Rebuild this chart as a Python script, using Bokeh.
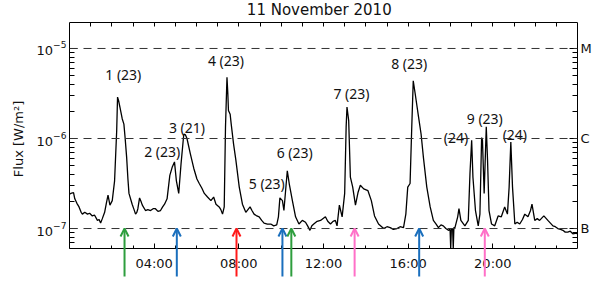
from bokeh.plotting import figure
from bokeh.models import (Range1d, LinearAxis, LogAxis, FixedTicker, Span, Label,
                          Arrow, OpenHead, ColumnDataSource)
from bokeh.core.properties import value
from bokeh.embed import file_html
from bokeh.resources import INLINE

TITLE = "11 November 2010"
Y_LABEL = "Flux [W/m\u00b2]"

# time in hours (UT) and log10 of GOES flux (W/m^2)
HOURS = [
    0.00, 0.06, 0.19, 0.25, 0.35, 0.45, 0.55, 0.61, 0.72, 0.85, 0.95, 1.08, 1.18, 1.32, 1.40,
    1.47, 1.55, 1.66, 1.74, 1.82, 1.91, 2.02, 2.13, 2.23, 2.27, 2.32, 2.38, 2.49, 2.57, 2.63,
    2.70, 2.76, 2.81, 2.96, 3.05, 3.12, 3.18, 3.23, 3.31, 3.38, 3.44, 3.59, 3.70, 3.83, 3.95,
    4.06, 4.18, 4.30, 4.40, 4.49, 4.61, 4.74, 4.85, 4.96, 5.05, 5.16, 5.27, 5.40, 5.48, 5.55,
    5.71, 5.87, 6.02, 6.13, 6.25, 6.37, 6.52, 6.68, 6.81, 6.92, 7.07, 7.15, 7.23, 7.31, 7.37,
    7.44, 7.48, 7.51, 7.59, 7.64, 7.75, 7.86, 8.02, 8.17, 8.33, 8.43, 8.53, 8.62, 8.72, 8.85,
    8.96, 9.08, 9.19, 9.35, 9.51, 9.65, 9.79, 9.87, 9.94, 10.06, 10.13, 10.22, 10.29, 10.38,
    10.53, 10.68, 10.84, 11.00, 11.15, 11.25, 11.36, 11.45, 11.54, 11.70, 11.86, 12.09, 12.20,
    12.33, 12.45, 12.56, 12.64, 12.75, 12.88, 13.00, 13.07, 13.11, 13.19, 13.27, 13.38, 13.51,
    13.63, 13.74, 13.90, 14.10, 14.26, 14.41, 14.60, 14.84, 15.00, 15.15, 15.30, 15.47, 15.62,
    15.78, 15.89, 15.98, 16.09, 16.17, 16.24, 16.33, 16.49, 16.61, 16.72, 16.88, 17.04, 17.19,
    17.32, 17.43, 17.55, 17.66, 17.78, 17.90, 17.98, 18.01, 18.04, 18.10, 18.13, 18.16, 18.21,
    18.34, 18.40, 18.49, 18.68, 18.84, 18.92, 19.00, 19.06, 19.18, 19.31, 19.39, 19.47, 19.51,
    19.59, 19.64, 19.69, 19.75, 19.82, 19.94, 20.09, 20.25, 20.40, 20.56, 20.69, 20.77, 20.85,
    20.93, 21.04, 21.15, 21.27, 21.40, 21.51, 21.66, 21.78, 21.85, 21.98, 22.10, 22.21, 22.41,
    22.60, 22.72, 22.84, 22.95, 23.07, 23.20, 23.31, 23.42, 23.54, 23.66, 23.78, 23.94, 24.00,
]
LOG_FLUX = [
    -6.62, -6.61, -6.60, -6.67, -6.72, -6.76, -6.82, -6.84, -6.82, -6.84, -6.83, -6.86, -6.85, -6.91, -6.90,
    -6.94, -6.89, -6.82, -6.72, -6.63, -6.74, -6.69, -6.47, -5.91, -5.54, -5.58, -5.65, -5.78, -5.84, -6.00,
    -6.21, -6.45, -6.61, -6.73, -6.79, -6.84, -6.82, -6.78, -6.66, -6.70, -6.74, -6.80, -6.79, -6.80, -6.78,
    -6.78, -6.81, -6.80, -6.76, -6.73, -6.67, -6.41, -6.32, -6.26, -6.47, -6.61, -6.28, -5.95, -5.96, -6.00,
    -6.17, -6.33, -6.45, -6.50, -6.55, -6.61, -6.65, -6.69, -6.65, -6.73, -6.76, -6.79, -6.84, -6.76, -5.87,
    -5.32, -5.50, -5.69, -5.73, -5.84, -6.06, -6.24, -6.54, -6.73, -6.82, -6.79, -6.76, -6.80, -6.84, -6.86,
    -6.87, -6.91, -6.94, -6.95, -6.95, -6.97, -6.96, -6.87, -6.66, -6.69, -6.80, -6.55, -6.36, -6.50,
    -6.69, -6.87, -6.95, -6.91, -6.93, -6.97, -7.02, -6.97, -6.95, -6.92, -6.91, -6.87, -6.92,
    -6.95, -6.92, -6.91, -6.97, -6.74, -6.87, -6.61, -5.87, -5.65, -5.80, -6.43, -6.54, -6.74,
    -6.60, -6.52, -6.56, -6.58, -6.69, -6.86, -6.95, -7.00, -6.98, -6.99, -7.01, -7.00, -6.98,
    -6.99, -6.84, -6.54, -6.50, -5.87, -5.36, -5.50, -5.76, -5.95, -6.21, -6.54, -6.76, -6.91,
    -6.95, -6.99, -6.96, -6.97, -7.00, -7.02, -7.01, -7.22, -7.01, -7.00, -7.22, -6.99, -6.99,
    -6.87, -6.78, -6.91, -6.97, -6.91, -6.39, -6.02, -6.43, -6.80, -6.97, -6.84, -5.99, -6.02,
    -6.61, -6.24, -5.87, -6.24, -6.80, -6.95, -6.97, -6.86, -6.87, -6.76, -6.84, -6.54, -6.04,
    -6.54, -6.95, -6.93, -6.95, -6.90, -6.84, -6.87, -6.80, -6.73, -6.91, -6.89, -6.91, -6.86,
    -6.91, -6.94, -6.97, -6.98, -7.00, -7.01, -7.02, -7.04, -7.04, -7.03, -7.06, -7.05, -7.06,
]

X_TICKS = [4, 8, 12, 16, 20]
X_TICK_LABELS = ["04:00", "08:00", "12:00", "16:00", "20:00"]
X_MINOR_TICKS = list(range(0, 25))

CLASS_LEVELS = [1e-7, 1e-6, 1e-5]
CLASS_LABELS = ["B", "C", "M"]

FLARE_TEXT = ["1 (23)", "2 (23)", "3 (21)", "4 (23)", "5 (23)", "6 (23)",
              "7 (23)", "8 (23)", "(24)", "9 (23)", "(24)"]
FLARE_X = [2.54, 4.38, 5.55, 7.39, 9.32, 10.64, 13.32, 16.05, 18.26, 19.62, 21.04]
FLARE_LOGY = [-5.289, -6.144, -5.878, -5.133, -6.50, -6.156, -5.50, -5.167, -5.989, -5.778, -5.956]

ARROW_HOURS = [2.60, 5.07, 7.89, 10.06, 10.48, 13.47, 16.52, 19.62]
ARROW_COLORS = ["#2e9e3e", "#1a6fbd", "#ff1a1a", "#1a6fbd", "#2e9e3e", "#ff70c8", "#1a6fbd", "#ff70c8"]

# visible axis box (log10 limits) plus room above (title) and below (arrows)
AX_LOG_MIN = -7.222
AX_LOG_MAX = -4.711
ROOM_LOG_MIN = -7.544
ROOM_LOG_MAX = -4.467
ARROW_TAIL_LOG = -7.533
TITLE_X = 11.8
TITLE_LOG_Y = -4.572

FONT = "DejaVu Sans"

flux = [10 ** v for v in LOG_FLUX]
ax_min = 10 ** AX_LOG_MIN
ax_max = 10 ** AX_LOG_MAX

p = figure(width=598, height=281, x_range=Range1d(0, 24),
           y_range=Range1d(10 ** ROOM_LOG_MIN, 10 ** ROOM_LOG_MAX),
           y_axis_type="log", output_backend="svg", toolbar_location=None,
           min_border_left=69, min_border_right=21, min_border_top=0, min_border_bottom=4,
           background_fill_color="white", border_fill_color="white")
p.grid.visible = False
p.outline_line_color = None

# dashed class levels
for lvl in CLASS_LEVELS:
    p.add_layout(Span(location=lvl, dimension="width", line_color="#333333",
                      line_dash="8 6", line_width=1))

# flux curve
src = ColumnDataSource(dict(t=HOURS, f=flux))
p.line("t", "f", source=src, line_color="black", line_width=1.3)

# flare labels
lab_src = ColumnDataSource(dict(x=FLARE_X, y=[10 ** v for v in FLARE_LOGY], txt=FLARE_TEXT))
p.text("x", "y", text="txt", source=lab_src, text_align="center", text_baseline="middle",
       text_font=value("Noto Sans"), text_font_size="14px", text_color="#111111")

# title
p.add_layout(Label(x=TITLE_X, y=10 ** TITLE_LOG_Y, text=TITLE, text_align="center",
                   text_baseline="alphabetic", text_font=FONT, text_font_size="15px",
                   text_color="#111111"))

# bottom axis, pinned at the bottom of the axis box
xa = p.xaxis[0]
xa.fixed_location = ax_min
xa.ticker = FixedTicker(ticks=X_TICKS, minor_ticks=X_MINOR_TICKS)
xa.major_label_overrides = {t: s for t, s in zip(X_TICKS, X_TICK_LABELS)}
xa.major_tick_in = 5
xa.major_tick_out = 0
xa.minor_tick_in = 3
xa.minor_tick_out = 0
xa.axis_line_color = "black"
xa.major_label_standoff = 7
xa.major_label_text_font = FONT
xa.major_label_text_font_size = "13px"
xa.major_label_text_color = "#111111"

# top axis (tick marks only), pinned at the top of the axis box
xt = LinearAxis(ticker=FixedTicker(ticks=[], minor_ticks=X_MINOR_TICKS), fixed_location=ax_max,
                minor_tick_in=4, minor_tick_out=0, axis_line_color="black")
p.add_layout(xt, "above")

# left axis
ya = p.yaxis[0]
ya.bounds = (ax_min, ax_max)
ya.major_tick_in = 8
ya.major_tick_out = 0
ya.minor_tick_in = 5
ya.minor_tick_out = 0
ya.axis_line_color = "black"
ya.major_label_standoff = 3
ya.major_label_text_font = FONT
ya.major_label_text_font_size = "13px"
ya.major_label_text_color = "#111111"
ya.axis_label = Y_LABEL
ya.axis_label_text_font = FONT
ya.axis_label_text_font_size = "13px"
ya.axis_label_text_font_style = "normal"
ya.axis_label_standoff = 8
ya.axis_label_text_color = "#111111"

# right axis with GOES classes
minor = [m * 10.0 ** e for e in (-8, -7, -6, -5) for m in range(2, 10)]
minor = [v for v in minor if ax_min * 1.01 <= v <= ax_max]
yr = LogAxis(ticker=FixedTicker(ticks=CLASS_LEVELS, minor_ticks=minor),
             bounds=(ax_min, ax_max),
             major_label_overrides={v: s for v, s in zip(CLASS_LEVELS, CLASS_LABELS)},
             major_tick_in=8, major_tick_out=0, minor_tick_in=5, minor_tick_out=0,
             major_label_standoff=3, major_label_text_font=FONT,
             major_label_text_font_size="13px", major_label_text_color="#111111",
             axis_line_color="black")
p.add_layout(yr, "right")

# coloured arrows
for h, c in zip(ARROW_HOURS, ARROW_COLORS):
    p.add_layout(Arrow(x_start=h, y_start=10 ** ARROW_TAIL_LOG, x_end=h, y_end=CLASS_LEVELS[0],
                       line_color=c, line_width=2,
                       end=OpenHead(size=8, line_width=2, line_color=c)))

open("out.html", "w").write(file_html(p, INLINE))
